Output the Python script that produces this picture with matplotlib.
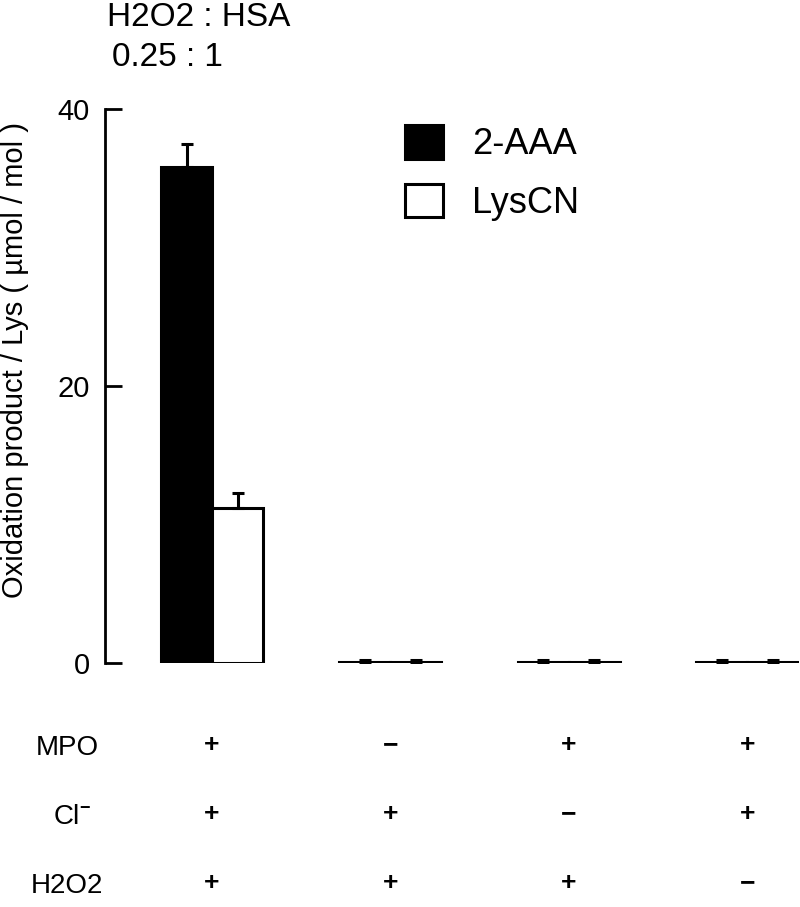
import matplotlib
matplotlib.use("Agg")
import matplotlib.pyplot as plt
import numpy as np

plt.rcParams['font.family'] = ['Liberation Sans', 'DejaVu Sans']

# Data
groups = ["1", "2", "3", "4"]
aaa_values = [35.8, 0.05, 0.05, 0.05]
aaa_err = [1.7, 0.2, 0.2, 0.2]
lyscn_values = [11.2, 0.05, 0.05, 0.05]
lyscn_err = [1.1, 0.2, 0.2, 0.2]
series_names = ["2-AAA", "LysCN"]
yticks = [0, 20, 40]
row_labels = ["MPO", "Cl", "H2O2"]
conditions = [
    ["+", "\u2212", "+", "+"],
    ["+", "+", "\u2212", "+"],
    ["+", "+", "+", "\u2212"],
]
title_lines = ["H2O2 : HSA", "0.25 : 1"]

W, H = 800, 907
fig = plt.figure(figsize=(W / 100, H / 100), dpi=100)
ax_left, ax_right = 105, 799
ax_top, ax_bottom = 109, 663
ax = fig.add_axes([ax_left / W, (H - ax_bottom) / H, (ax_right - ax_left) / W, (ax_bottom - ax_top) / H])

x = np.arange(len(groups))
bw = 0.286
lw = 2.2
ax.bar(x - bw / 2, aaa_values, bw, color='black', edgecolor='black', linewidth=lw,
       label=series_names[0], zorder=2)
ax.bar(x + bw / 2, lyscn_values, bw, color='white', edgecolor='black', linewidth=lw,
       label=series_names[1], zorder=2)
ax.errorbar(x - bw / 2, aaa_values, yerr=[np.zeros(len(x)), aaa_err], fmt='none',
            ecolor='black', elinewidth=2.2, capsize=4.5, capthick=2.2, zorder=3)
ax.errorbar(x + bw / 2, lyscn_values, yerr=[np.zeros(len(x)), lyscn_err], fmt='none',
            ecolor='black', elinewidth=2.2, capsize=4.5, capthick=2.2, zorder=3)

ax.set_xlim(-0.6, 3.29)
ax.set_ylim(0, 40)
ax.set_yticks(yticks)
ax.set_xticks([])
for s in ['top', 'right', 'bottom']:
    ax.spines[s].set_visible(False)
ax.spines['left'].set_linewidth(2.0)
ax.tick_params(axis='y', direction='in', length=12, width=2.0, labelsize=21, pad=11)

ax.set_ylabel("Oxidation product / Lys ( \u00b5mol / mol )", fontsize=21)
ax.yaxis.set_label_coords((29 - ax_left) / (ax_right - ax_left), (ax_bottom - 360) / (ax_bottom - ax_top))

leg = ax.legend(loc='upper left', bbox_to_anchor=(387 / W, 1 - 107 / H),
                bbox_transform=fig.transFigure, frameon=False, borderpad=0,
                fontsize=26, handlelength=1.05, handleheight=1.05, handletextpad=0.8,
                labelspacing=0.6)
for p in leg.get_patches():
    p.set_linewidth(2.2)

# Title text
fig.text(107 / W, 1 - 17 / H, title_lines[0], fontsize=24, ha='left', va='center')
fig.text(112 / W, 1 - 58 / H, title_lines[1], fontsize=24, ha='left', va='center')

# Condition table
row_y = [748, 817, 886]
label_x = 67
for i, (lab, ys) in enumerate(zip(row_labels, row_y)):
    fig.text(label_x / W, 1 - ys / H, lab, fontsize=20, ha='center', va='center')
    if lab == "Cl":
        fig.text((label_x + 17) / W, 1 - (ys - 9) / H, "\u2212", fontsize=13,
                 fontweight='bold', ha='center', va='center')
    for j, sign in enumerate(conditions[i]):
        px = ax.transData.transform((x[j], 0))[0]
        fig.text(px / W, 1 - (ys - 3) / H, sign, fontsize=19, fontweight='bold',
                 ha='center', va='center')

fig.savefig("out.png", dpi=100)
